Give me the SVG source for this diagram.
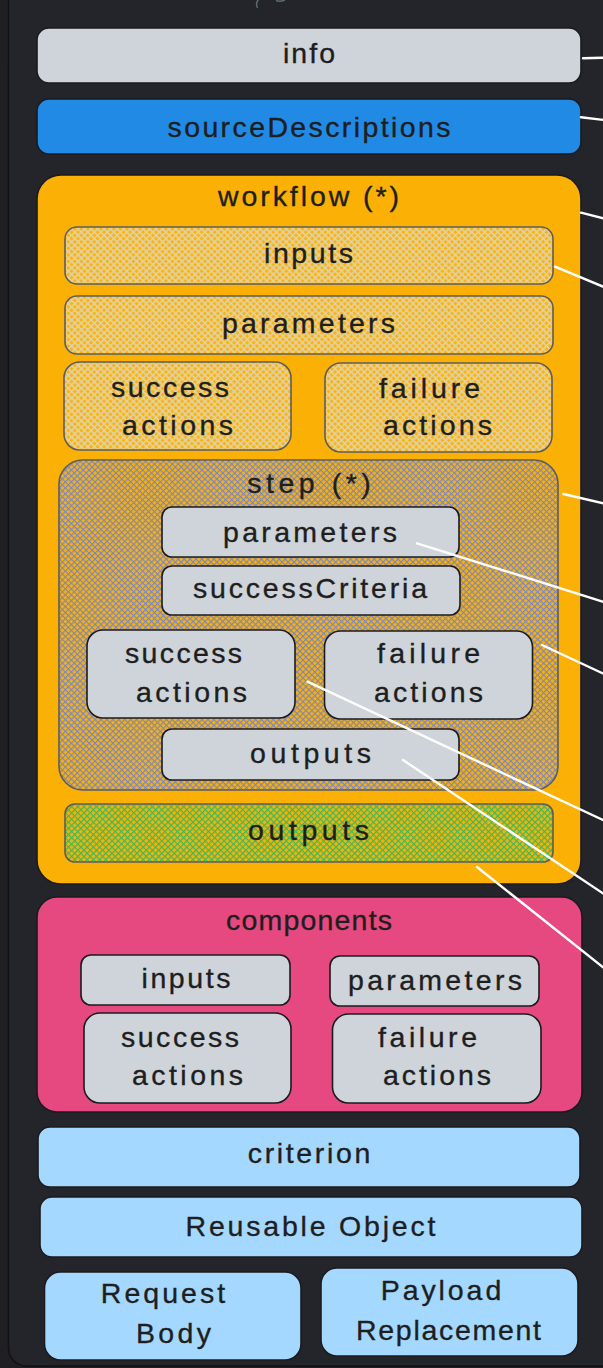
<svg xmlns="http://www.w3.org/2000/svg" width="603" height="1368" viewBox="0 0 603 1368">
<defs>
<pattern id="hLight" width="4.6" height="4.6" patternUnits="userSpaceOnUse" patternTransform="rotate(45)">
<rect width="4.6" height="4.6" fill="#f8b512"/>
<path d="M0 0.8H4.6M0.8 0V4.6" stroke="#e2d2a6" stroke-width="1.5"/>
</pattern>
<pattern id="hBlue" width="4.2" height="4.2" patternUnits="userSpaceOnUse" patternTransform="rotate(45)">
<rect width="4.2" height="4.2" fill="#f7b00e"/>
<path d="M0 0.6H4.2M0.6 0V4.2" stroke="#7485c8" stroke-width="1.05"/>
</pattern>
<pattern id="hGreen" width="4.4" height="4.4" patternUnits="userSpaceOnUse" patternTransform="rotate(45)">
<rect width="4.4" height="4.4" fill="#f4b20c"/>
<path d="M0 0.6H4.4M0.6 0V4.4" stroke="#3fb858" stroke-width="1.2"/>
</pattern>
</defs>
<style>
.box{stroke:#1b1b1f;stroke-width:1.6}
.hb{stroke:#5e5d5a;stroke-width:1.6}
.gray{fill:#ced4da}
.t{font-family:"Liberation Sans",Arial,sans-serif;font-size:28.5px;fill:#1e1e1e;text-anchor:middle;stroke:#1e1e1e;stroke-width:0.35}
.cn{stroke:#ffffff;stroke-width:2.4;stroke-linecap:round;fill:none}
</style>
<rect width="603" height="1368" fill="#1f1f24"/>
<rect x="8.5" y="-30" width="640" height="1396" rx="18" fill="#24242b" stroke="#121215" stroke-width="1.5"/>
<path d="M259 -1 Q255 3 257.5 8" stroke="#5d6a70" stroke-width="1.5" fill="none"/>
<path d="M276 0.5 Q280 2 285 0" stroke="#5d6a70" stroke-width="1.5" fill="none"/>

<g id="info">
<rect class="box gray" x="37" y="28" width="544" height="55" rx="12"/>
<text class="t" x="309" y="63" textLength="52">info</text>
</g>
<g id="sourceDescriptions">
<rect class="box" x="37" y="99" width="544" height="55" rx="12" fill="#218ae5"/>
<text class="t" x="309" y="137" textLength="283">sourceDescriptions</text>
</g>
<g id="workflow">
<rect class="box" x="37" y="175" width="544" height="709" rx="24" fill="#fab005" stroke="#3a3220"/>
<text class="t" x="308.5" y="206" textLength="181">workflow (*)</text>
</g>
<g id="wf-inputs">
<rect class="hb" x="65" y="227" width="488" height="57" rx="12" fill="url(#hLight)"/>
<text class="t" x="308.5" y="263" textLength="89">inputs</text>
</g>
<g id="wf-parameters">
<rect class="hb" x="65" y="296" width="488" height="58" rx="12" fill="url(#hLight)"/>
<text class="t" x="308.5" y="333" textLength="173">parameters</text>
</g>
<g id="wf-success-actions">
<rect class="hb" x="64" y="362" width="227" height="88" rx="16" fill="url(#hLight)"/>
<text class="t" x="170" y="397" textLength="118">success</text>
<text class="t" x="177.5" y="435" textLength="111">actions</text>
</g>
<g id="wf-failure-actions">
<rect class="hb" x="325" y="363" width="227" height="89" rx="16" fill="url(#hLight)"/>
<text class="t" x="429.5" y="398" textLength="101">failure</text>
<text class="t" x="437.5" y="435" textLength="109">actions</text>
</g>
<g id="step">
<rect class="hb" x="59" y="460" width="499" height="330" rx="24" fill="url(#hBlue)"/>
<text class="t" x="309" y="493" textLength="123.5">step (*)</text>
</g>
<g id="step-parameters">
<rect class="box gray" x="162" y="507" width="297" height="50" rx="10"/>
<text class="t" x="310" y="542" textLength="174">parameters</text>
</g>
<g id="step-successCriteria">
<rect class="box gray" x="162" y="566" width="298" height="49" rx="10"/>
<text class="t" x="310" y="598" textLength="234">successCriteria</text>
</g>
<g id="step-success-actions">
<rect class="box gray" x="87" y="630" width="208" height="88" rx="16"/>
<text class="t" x="183.5" y="663" textLength="117">success</text>
<text class="t" x="191.5" y="702" textLength="111">actions</text>
</g>
<g id="step-failure-actions">
<rect class="box gray" x="324.5" y="631" width="208" height="88" rx="16"/>
<text class="t" x="428.5" y="663" textLength="103">failure</text>
<text class="t" x="428.5" y="702" textLength="109">actions</text>
</g>
<g id="step-outputs">
<rect class="box gray" x="162" y="729" width="297" height="51" rx="10"/>
<text class="t" x="310.5" y="763" textLength="121">outputs</text>
</g>
<g id="wf-outputs">
<rect class="hb" x="65" y="804" width="488" height="58" rx="10" fill="url(#hGreen)"/>
<text class="t" x="308.5" y="840" textLength="121">outputs</text>
</g>
<g id="components">
<rect class="box" x="37" y="897" width="545" height="215" rx="20" fill="#e64980" stroke="#3a2a30"/>
<text class="t" x="309" y="930" textLength="166">components</text>
</g>
<g id="comp-inputs">
<rect class="box gray" x="81" y="955" width="209" height="50" rx="10"/>
<text class="t" x="186" y="988" textLength="89">inputs</text>
</g>
<g id="comp-parameters">
<rect class="box gray" x="330" y="956" width="209" height="50" rx="10"/>
<text class="t" x="435" y="990" textLength="174">parameters</text>
</g>
<g id="comp-success-actions">
<rect class="box gray" x="84" y="1013" width="207" height="90" rx="16"/>
<text class="t" x="180" y="1047" textLength="118">success</text>
<text class="t" x="187.5" y="1085" textLength="111">actions</text>
</g>
<g id="comp-failure-actions">
<rect class="box gray" x="332.5" y="1014" width="208.5" height="89" rx="16"/>
<text class="t" x="427.5" y="1047" textLength="99">failure</text>
<text class="t" x="437" y="1085" textLength="108">actions</text>
</g>
<g id="criterion">
<rect class="box" x="38" y="1127" width="542" height="60" rx="12" fill="#a5d8ff"/>
<text class="t" x="309" y="1163" textLength="122.5">criterion</text>
</g>
<g id="reusable-object">
<rect class="box" x="40" y="1197" width="542" height="60" rx="12" fill="#a5d8ff"/>
<text class="t" x="310.5" y="1236" textLength="250">Reusable Object</text>
</g>
<g id="request-body">
<rect class="box" x="44.5" y="1272" width="256.5" height="88" rx="16" fill="#a5d8ff"/>
<text class="t" x="163" y="1303" textLength="124.5">Request</text>
<text class="t" x="173.5" y="1343" textLength="75">Body</text>
</g>
<g id="payload-replacement">
<rect class="box" x="321" y="1268" width="257" height="88" rx="16" fill="#a5d8ff"/>
<text class="t" x="441" y="1300" textLength="120.5">Payload</text>
<text class="t" x="448.5" y="1340" textLength="185">Replacement</text>
</g>

<g id="connectors">
<line class="cn" x1="583" y1="58.3" x2="604" y2="57.7"/>
<line class="cn" x1="581" y1="117.3" x2="604" y2="120"/>
<line class="cn" x1="581" y1="212.7" x2="604" y2="218.5"/>
<line class="cn" x1="555" y1="266.7" x2="604" y2="287"/>
<line class="cn" x1="563.3" y1="494" x2="604" y2="503.5"/>
<line class="cn" x1="417" y1="543.3" x2="604" y2="602"/>
<line class="cn" x1="542" y1="645" x2="604" y2="674"/>
<line class="cn" x1="307.5" y1="681.7" x2="604" y2="820.5"/>
<line class="cn" x1="403" y1="760" x2="604" y2="894"/>
<line class="cn" x1="477" y1="867" x2="604" y2="968"/>
</g>
</svg>
